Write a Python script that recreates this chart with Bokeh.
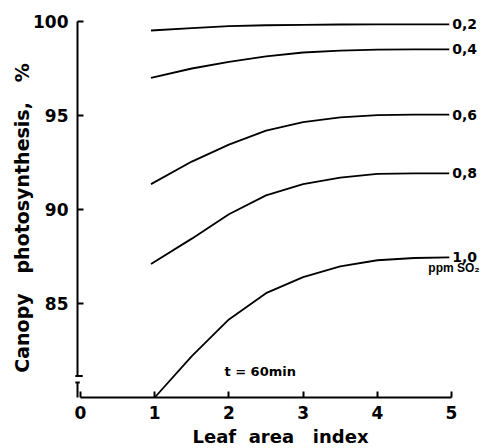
import math
from bokeh.plotting import figure
from bokeh.models import Range1d, FixedTicker, ColumnDataSource, Label
from bokeh.embed import file_html
from bokeh.resources import INLINE
from bokeh.core.properties import value

# ---- data ----
lai_a = [0.95, 1.5, 2.0, 2.5, 3.0, 3.5, 4.0, 4.5, 4.97]
lai_b = [1.0, 1.5, 2.0, 2.5, 3.0, 3.5, 4.0, 4.5, 4.97]

ps_02 = [99.52, 99.65, 99.75, 99.80, 99.82, 99.84, 99.85, 99.85, 99.85]
ps_04 = [97.00, 97.50, 97.85, 98.15, 98.35, 98.45, 98.50, 98.52, 98.52]
ps_06 = [91.35, 92.55, 93.45, 94.20, 94.65, 94.90, 95.02, 95.05, 95.05]
ps_08 = [87.10, 88.45, 89.75, 90.75, 91.35, 91.70, 91.90, 91.92, 91.92]
ps_10 = [80.00, 82.20, 84.15, 85.55, 86.40, 86.98, 87.30, 87.42, 87.45]

conc_labels = ["0,2", "0,4", "0,6", "0,8", "1,0"]
x_ticks = [0, 1, 2, 3, 4, 5]
y_ticks = [85, 90, 95, 100]
y_base = 80
x_axis_pos = -0.0404

FONT = "DejaVu Sans"
NB = "\u00a0"

p = figure(width=481, height=448, output_backend="svg", toolbar_location=None,
           x_range=Range1d(-1.0782, 5.404), y_range=Range1d(77.287, 101.117),
           min_border_left=0, min_border_right=0, min_border_top=0,
           min_border_bottom=0)
p.outline_line_color = None
p.grid.visible = False
p.background_fill_color = "white"
p.border_fill_color = "white"

# x axis (placed at y = 80 inside the frame)
xa = p.xaxis[0]
xa.fixed_location = y_base
xa.ticker = FixedTicker(ticks=x_ticks)
xa.bounds = (0, 5)
xa.major_tick_in = 6
xa.major_tick_out = 0
xa.minor_tick_in = 0
xa.minor_tick_out = 0
xa.axis_line_width = 2
xa.major_tick_line_width = 2
xa.major_label_standoff = 9
xa.major_label_text_font = FONT
xa.major_label_text_font_style = "bold"
xa.major_label_text_font_size = "17px"
xa.major_label_text_color = "black"

# y axis (placed just left of x = 0 inside the frame)
ya = p.yaxis[0]
ya.fixed_location = x_axis_pos
ya.ticker = FixedTicker(ticks=y_ticks)
ya.bounds = (81.15, 100)
ya.major_tick_in = 6
ya.major_tick_out = 0
ya.minor_tick_in = 0
ya.minor_tick_out = 0
ya.axis_line_width = 2
ya.major_tick_line_width = 2
ya.major_label_standoff = 9
ya.major_label_text_font = FONT
ya.major_label_text_font_style = "bold"
ya.major_label_text_font_size = "17px"
ya.major_label_text_color = "black"

# axis titles
p.add_layout(Label(x=2.695, y=77.9, text="Leaf" + NB * 2 + "area" + NB * 3 + "index",
                   text_align="center", text_baseline="middle", text_font=FONT,
                   text_font_style="bold", text_font_size="18px", text_color="black"))
p.add_layout(Label(x=-0.795, y=89.55,
                   text="Canopy" + NB * 3 + "photosynthesis," + NB * 3 + "%",
                   angle=math.pi / 2, text_align="center", text_baseline="middle",
                   text_font=FONT, text_font_style="bold", text_font_size="19px",
                   text_color="black"))

# axis break decoration (lower stub of the y axis with caps)
p.segment(x0=[x_axis_pos, -0.07, -0.07], y0=[y_base, 81.15, 80.8],
          x1=[x_axis_pos, 0.03, -0.01], y1=[80.8, 81.15, 80.8],
          line_color="black", line_width=2)

# curves
series = [(lai_a, ps_02), (lai_a, ps_04), (lai_a, ps_06), (lai_a, ps_08), (lai_b, ps_10)]
for xs, ys in series:
    p.line(xs, ys, line_color="black", line_width=1.8)

# end labels
lab_src = ColumnDataSource(dict(
    x=[xs[-1] for xs, ys in series],
    y=[ys[-1] for xs, ys in series],
    t=conc_labels,
))
p.text(x="x", y="y", text="t", source=lab_src, x_offset=3,
       text_align="left", text_baseline="middle",
       text_font=value(FONT), text_font_style="bold",
       text_font_size="14px", text_color="black")

p.text(x=[lai_b[-1]], y=[ps_10[-1]], text=["ppm SO\u2082"], x_offset=-21, y_offset=11,
       text_align="left", text_baseline="middle",
       text_font=value("Liberation Sans"), text_font_style="bold",
       text_font_size="12px", text_color="black")

p.add_layout(Label(x=1.94, y=81.38, text="t = 60min", text_align="left",
                   text_baseline="middle", text_font=FONT, text_font_style="bold",
                   text_font_size="13px", text_color="black"))

open("out.html", "w").write(file_html(p, INLINE))
